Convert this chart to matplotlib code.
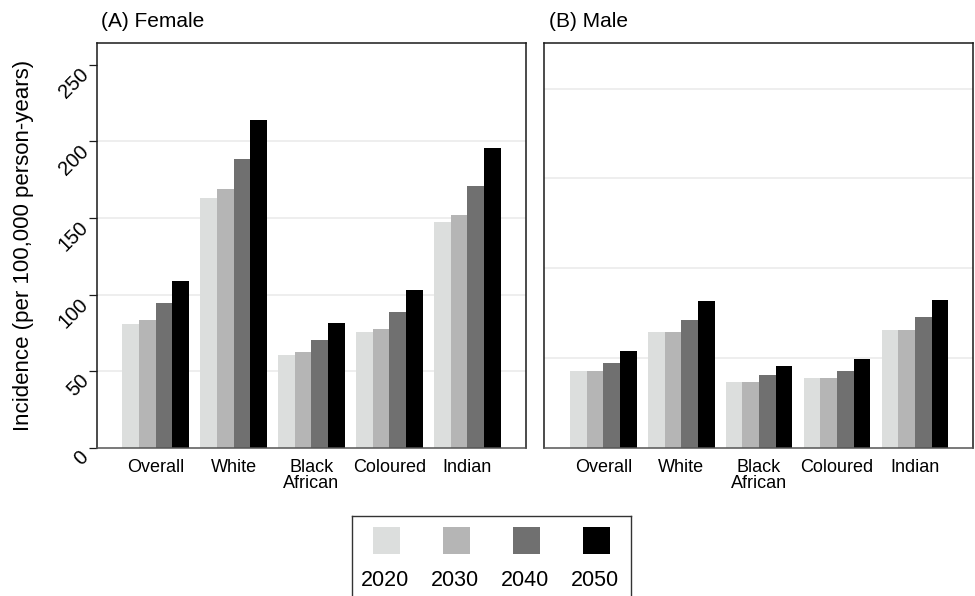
import numpy as np
import matplotlib
matplotlib.use('Agg')
import matplotlib.pyplot as plt
from matplotlib.patches import Rectangle

plt.rcParams['font.family'] = ['Liberation Sans', 'DejaVu Sans']

groups = ['Overall', 'White', 'Black\nAfrican', 'Coloured', 'Indian']
years = ['2020', '2030', '2040', '2050']
shades = ['#dcdedd', '#b5b5b5', '#707070', '#000000']

# incidence per 100,000 person-years
female_2020 = [80.7, 162.9, 60.7, 75.5, 147.3]
female_2030 = [83.3, 168.8, 62.7, 77.5, 151.9]
female_2040 = [94.5, 188.4, 70.3, 88.6, 170.8]
female_2050 = [108.8, 213.9, 81.4, 103.0, 195.6]

male_2020 = [17.1, 25.8, 14.6, 15.5, 26.2]
male_2030 = [17.1, 25.8, 14.6, 15.5, 26.2]
male_2040 = [18.9, 28.5, 16.2, 17.1, 29.1]
male_2050 = [21.5, 32.7, 18.2, 19.8, 32.9]

female_ticks = [0, 50, 100, 150, 200, 250]
female_grid = [50, 100, 150, 200]
male_grid = [20, 40, 60, 80]

female = [female_2020, female_2030, female_2040, female_2050]
male = [male_2020, male_2030, male_2040, male_2050]

fig = plt.figure(figsize=(9.75, 5.96), dpi=100)
ax_f = fig.add_axes([0.0992, 0.2488, 0.44, 0.6795])
ax_m = fig.add_axes([0.5583, 0.2488, 0.44, 0.6795])

x = np.arange(len(groups))
w = 0.855 / 4


def draw_panel(ax, series, grid, top, title):
    for yv in grid:
        ax.axhline(yv, color='#eeeeee', lw=1.4, zorder=0)
    for i, vals in enumerate(series):
        ax.bar(x - 0.855 / 2 + w * (i + 0.5), vals, width=w, color=shades[i],
               edgecolor='none', zorder=2)
    ax.set_xlim(-0.757, 4.75)
    ax.set_ylim(0, top)
    ax.set_xticks(x)
    ax.set_xticklabels(groups, fontsize=13, linespacing=0.9)
    ax.tick_params(axis='x', length=0, pad=8)
    for s in ax.spines.values():
        s.set_color('#1a1a1a')
        s.set_linewidth(1.1)
    ax.spines['bottom'].set_color('#555555')
    ax.text(0.01, 1.03, title, transform=ax.transAxes, fontsize=15,
            ha='left', va='bottom')


draw_panel(ax_f, female, female_grid, 264.4, '(A) Female')
draw_panel(ax_m, male, male_grid, 90.2, '(B) Male')

ax_f.set_yticks(female_ticks)
ax_f.set_yticklabels([str(t) for t in female_ticks], fontsize=14.5)
ax_f.tick_params(axis='y', length=5.8, width=0.9, pad=7, color='#1a1a1a')
for lab in ax_f.get_yticklabels():
    lab.set_rotation(45)
    lab.set_ha('right')
    lab.set_va('top')
    lab.set_rotation_mode('anchor')

ax_m.set_yticks([])

fig.text(24 / 975, 1 - 245 / 596, 'Incidence (per 100,000 person-years)',
         rotation=90, ha='center', va='center', fontsize=16)

# legend box, bottom edge runs off the figure
leg = fig.add_axes([351.7 / 975, 0, 279.3 / 975, 80.3 / 596])
leg.set_xlim(0, 279.3)
leg.set_ylim(0, 80.3)
leg.set_xticks([])
leg.set_yticks([])
for name, s in leg.spines.items():
    s.set_color('#333333')
    s.set_linewidth(1.0)
leg.spines['bottom'].set_visible(False)
for i, (yr, c) in enumerate(zip(years, shades)):
    cx = 34.6 + 70 * i
    leg.add_patch(Rectangle((cx - 13.5, 42.3), 27, 27, facecolor=c, edgecolor='none'))
    leg.text(cx - 1, 15, yr, ha='center', va='center', fontsize=15.5)

fig.savefig('out.png', dpi=100)
